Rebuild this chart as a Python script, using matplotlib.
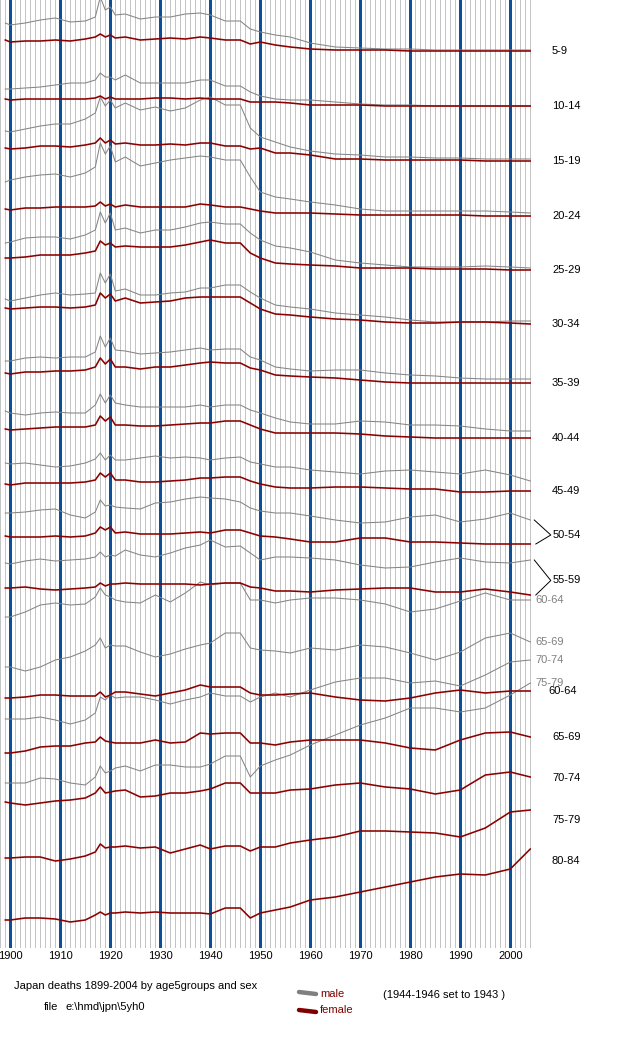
import matplotlib
matplotlib.use("Agg")
import matplotlib.pyplot as plt
from matplotlib.lines import Line2D

plt.rcParams['font.family'] = ['Liberation Sans', 'DejaVu Sans']

YEARS = [1899, 1900, 1903, 1906, 1909, 1912, 1915, 1917, 1918, 1919,
         1920, 1921, 1923, 1926, 1929, 1932, 1935, 1938, 1940, 1943,
         1946, 1948, 1950, 1953, 1956, 1960, 1965, 1970, 1975, 1980,
         1985, 1990, 1995, 2000, 2004]

# curve levels (stacked, arbitrary units measured downward from the top)
M_05_09 = [23, 25, 23, 20, 18, 22, 21, 17, -3, 10, 7, 15, 14, 19, 17, 17, 14, 13, 15, 21,
           21, 29, 32, 35, 37, 43, 47, 48, 49, 49, 50, 50, 50, 50, 50]
F_05_09 = [40, 42, 41, 41, 40, 41, 39, 37, 34, 37, 35, 38, 37, 40, 39, 38, 39, 37, 38, 40,
           40, 44, 42, 45, 47, 49, 50, 50, 50, 51, 51, 51, 51, 51, 51]
M_10_14 = [89, 89, 88, 87, 85, 83, 83, 80, 73, 77, 77, 80, 75, 83, 83, 83, 83, 80, 80, 86,
           86, 92, 96, 99, 100, 100, 102, 104, 105, 105, 106, 106, 106, 106, 106]
F_10_14 = [99, 100, 99, 99, 99, 99, 99, 98, 96, 99, 97, 99, 99, 99, 98, 98, 99, 98, 99, 99,
           99, 102, 102, 102, 103, 105, 105, 105, 106, 106, 106, 106, 106, 106, 106]
M_15_19 = [131, 132, 129, 126, 124, 124, 119, 113, 97, 106, 100, 108, 103, 110, 107, 111, 108, 100, 97, 105,
           105, 128, 137, 142, 147, 151, 154, 155, 157, 157, 158, 158, 159, 159, 159]
F_15_19 = [148, 149, 148, 146, 146, 147, 145, 143, 138, 143, 140, 144, 143, 145, 145, 144, 145, 143, 143, 146,
           146, 149, 148, 153, 153, 155, 159, 159, 160, 160, 160, 160, 161, 161, 161]
M_20_24 = [182, 180, 177, 175, 174, 177, 173, 167, 143, 154, 146, 162, 157, 166, 163, 160, 158, 156, 157, 160,
           160, 177, 192, 197, 199, 202, 205, 209, 211, 211, 211, 211, 211, 212, 213]
F_20_24 = [209, 210, 208, 208, 207, 207, 207, 206, 202, 206, 204, 207, 205, 207, 207, 207, 207, 204, 205, 207,
           207, 209, 211, 213, 213, 213, 214, 215, 215, 215, 215, 215, 216, 216, 216]
M_25_29 = [243, 242, 238, 237, 237, 239, 235, 230, 212, 223, 213, 230, 228, 233, 230, 230, 227, 223, 222, 224,
           224, 233, 240, 246, 248, 252, 260, 263, 265, 267, 267, 267, 266, 267, 268]
F_25_29 = [258, 258, 257, 255, 255, 255, 253, 251, 241, 245, 243, 247, 246, 247, 247, 247, 245, 242, 240, 243,
           243, 253, 258, 263, 264, 265, 266, 268, 268, 268, 269, 269, 269, 270, 270]
M_30_34 = [299, 301, 298, 295, 293, 295, 294, 293, 273, 283, 274, 291, 289, 295, 295, 293, 292, 288, 288, 285,
           285, 292, 298, 305, 307, 309, 313, 315, 317, 320, 322, 322, 322, 321, 321]
F_30_34 = [308, 309, 308, 307, 307, 308, 307, 305, 293, 298, 294, 301, 298, 303, 302, 301, 298, 297, 297, 297,
           297, 303, 309, 314, 315, 317, 319, 320, 322, 323, 323, 322, 322, 323, 324]
M_35_39 = [361, 361, 358, 357, 358, 357, 357, 352, 336, 347, 338, 350, 351, 354, 353, 352, 350, 348, 350, 349,
           349, 357, 360, 367, 369, 371, 370, 370, 373, 375, 376, 378, 379, 379, 379]
F_35_39 = [373, 374, 372, 372, 371, 371, 370, 367, 358, 364, 359, 367, 367, 369, 367, 367, 365, 363, 362, 363,
           363, 368, 370, 375, 376, 377, 378, 380, 382, 383, 383, 383, 383, 383, 383]
M_40_44 = [411, 413, 415, 413, 412, 413, 413, 405, 394, 403, 395, 403, 405, 407, 407, 407, 407, 405, 407, 405,
           405, 410, 413, 418, 422, 424, 424, 421, 422, 425, 425, 426, 429, 431, 431]
F_40_44 = [429, 430, 429, 428, 427, 427, 427, 425, 416, 421, 417, 425, 425, 426, 426, 425, 424, 423, 423, 421,
           421, 425, 429, 433, 433, 433, 433, 434, 436, 437, 438, 438, 438, 438, 438]
M_45_49 = [463, 464, 463, 465, 467, 466, 463, 459, 453, 460, 455, 460, 460, 458, 456, 458, 457, 458, 460, 458,
           457, 462, 464, 467, 467, 470, 472, 474, 471, 470, 472, 474, 470, 475, 481]
F_45_49 = [484, 485, 483, 483, 483, 483, 482, 480, 473, 477, 473, 480, 480, 482, 482, 481, 480, 478, 478, 477,
           477, 481, 484, 487, 488, 488, 487, 487, 488, 489, 489, 492, 492, 491, 491]
M_50_54 = [513, 513, 512, 510, 509, 515, 518, 512, 500, 506, 505, 507, 508, 509, 503, 502, 499, 497, 498, 499,
           502, 508, 511, 513, 513, 516, 520, 523, 522, 517, 515, 522, 519, 513, 520]
F_50_54 = [536, 537, 537, 537, 536, 537, 536, 533, 527, 530, 527, 533, 532, 534, 534, 534, 533, 532, 533, 530,
           530, 533, 536, 537, 539, 542, 542, 538, 538, 542, 542, 543, 544, 544, 544]
M_55_59 = [563, 564, 561, 559, 561, 560, 559, 557, 552, 557, 555, 556, 550, 555, 557, 553, 548, 545, 540, 547,
           546, 553, 560, 557, 557, 558, 560, 565, 568, 567, 562, 558, 562, 563, 560]
F_55_59 = [588, 588, 587, 589, 590, 589, 588, 587, 583, 586, 584, 584, 583, 584, 584, 584, 584, 585, 584, 583,
           583, 587, 588, 591, 591, 592, 590, 589, 588, 588, 592, 592, 589, 592, 595]
M_60_64 = [617, 617, 612, 605, 603, 605, 604, 597, 588, 595, 597, 600, 602, 603, 595, 602, 593, 582, 585, 583,
           583, 600, 600, 603, 600, 598, 598, 600, 604, 612, 609, 601, 593, 600, 600]
M_65_69 = [667, 667, 671, 667, 660, 657, 651, 645, 638, 648, 645, 646, 646, 652, 657, 654, 649, 645, 643, 633,
           633, 648, 650, 651, 653, 648, 650, 645, 647, 653, 660, 652, 638, 633, 642]
M_70_74 = [719, 719, 719, 717, 720, 724, 720, 713, 697, 700, 695, 698, 697, 697, 700, 704, 700, 697, 693, 696,
           696, 702, 697, 693, 697, 690, 682, 678, 678, 683, 681, 686, 675, 662, 660]
M_75_79 = [783, 783, 783, 778, 779, 783, 785, 777, 766, 773, 771, 768, 766, 771, 765, 765, 767, 767, 764, 756,
           756, 777, 766, 760, 755, 745, 735, 725, 718, 708, 708, 712, 708, 695, 683]
F_60_64 = [698, 698, 697, 695, 695, 696, 696, 696, 692, 697, 695, 692, 692, 694, 696, 693, 690, 685, 687, 687,
           687, 693, 695, 695, 694, 693, 697, 700, 701, 698, 693, 690, 693, 691, 691]
F_65_69 = [753, 753, 751, 747, 746, 746, 743, 742, 737, 741, 742, 743, 743, 743, 740, 743, 742, 733, 734, 733,
           733, 743, 743, 745, 742, 740, 740, 740, 743, 748, 750, 740, 733, 732, 737]
F_70_74 = [802, 803, 805, 803, 801, 800, 798, 793, 787, 793, 792, 791, 790, 797, 796, 793, 793, 791, 789, 783,
           783, 793, 793, 793, 790, 789, 785, 783, 787, 789, 794, 790, 775, 772, 777]
F_75_79 = [858, 858, 857, 857, 861, 859, 856, 852, 844, 848, 847, 847, 846, 848, 847, 853, 849, 845, 849, 846,
           846, 851, 847, 847, 843, 840, 837, 831, 831, 832, 833, 837, 828, 812, 810]
F_80_84 = [920, 920, 918, 918, 919, 922, 920, 915, 912, 915, 913, 913, 912, 913, 912, 913, 913, 913, 914, 908,
           908, 918, 913, 910, 907, 900, 897, 892, 887, 882, 877, 874, 875, 869, 849]

PAIRED_AGES = ['5-9', '10-14', '15-19', '20-24', '25-29', '30-34',
               '35-39', '40-44', '45-49', '50-54', '55-59']
PAIRED_MALE = [M_05_09, M_10_14, M_15_19, M_20_24, M_25_29, M_30_34,
               M_35_39, M_40_44, M_45_49, M_50_54, M_55_59]
PAIRED_FEMALE = [F_05_09, F_10_14, F_15_19, F_20_24, F_25_29, F_30_34,
                 F_35_39, F_40_44, F_45_49, F_50_54, F_55_59]
BRACKETED = ['50-54', '55-59']

OLD_MALE_AGES = ['60-64', '65-69', '70-74', '75-79']
OLD_MALE = [M_60_64, M_65_69, M_70_74, M_75_79]
OLD_FEMALE_AGES = ['60-64', '65-69', '70-74', '75-79', '80-84']
OLD_FEMALE = [F_60_64, F_65_69, F_70_74, F_75_79, F_80_84]

DECADES = list(range(1900, 2001, 10))

MALE_COLOR = '#858585'
FEMALE_COLOR = '#8b0000'
GRID_GRAY = '#c4c4c4'
GRID_BLUE = '#0a4f9a'

W, H = 640, 1050
fig = plt.figure(figsize=(W / 100, H / 100), dpi=100)
fig.patch.set_facecolor('white')
ax = fig.add_axes([0, 1 - 948 / H, 531 / W, 948 / H])
x0 = 1900 - 10.3 / 5
ax.set_xlim(x0, x0 + 531 / 5)
ax.set_ylim(948, 0)
for s in ax.spines.values():
    s.set_visible(False)

# yearly grid, decades in blue
for yr in range(1898, 2005):
    if yr % 10:
        ax.axvline(yr, color=GRID_GRAY, lw=0.65, antialiased=False, zorder=0)
for yr in DECADES:
    ax.axvline(yr, color=GRID_BLUE, lw=0.85, antialiased=False, zorder=1)

ax.set_xticks(DECADES)
ax.set_xticklabels([str(d) for d in DECADES])
ax.tick_params(axis='x', length=0, pad=2, labelsize=8)
ax.set_yticks([])

lab_x = 1900 + (552 - 10.3) / 5
gray_lab_x = 1900 + (535 - 10.3) / 5

for age, m, f in zip(PAIRED_AGES, PAIRED_MALE, PAIRED_FEMALE):
    ax.plot(YEARS, m, color=MALE_COLOR, lw=0.75, zorder=3)
    ax.plot(YEARS, f, color=FEMALE_COLOR, lw=1.15, zorder=4)
    if age in BRACKETED:
        mid = (m[-1] + f[-1]) / 2 + 3
        ax.plot([YEARS[-1] + 0.8, YEARS[-1] + 4.1, YEARS[-1] + 1.1],
                [m[-1], mid, f[-1]], color='black', lw=0.7, clip_on=False)
        ax.text(YEARS[-1] + 4.4, mid, age, fontsize=8, va='center', ha='left', clip_on=False)
    else:
        ax.text(lab_x, f[-1], age, fontsize=8, va='center', ha='left', clip_on=False)

for age, m in zip(OLD_MALE_AGES, OLD_MALE):
    ax.plot(YEARS, m, color=MALE_COLOR, lw=0.75, zorder=3)
    ax.text(gray_lab_x, m[-1], age, fontsize=8, color='#808080', va='center',
            ha='left', clip_on=False)

prev = None
for age, f in zip(OLD_FEMALE_AGES, OLD_FEMALE):
    ax.plot(YEARS, f, color=FEMALE_COLOR, lw=1.15, zorder=4)
    ly = f[-1] if prev is None else max(f[-1], prev + 41.5)
    prev = ly
    ax.text(lab_x - (0.8 if age == '60-64' else 0), ly, age, fontsize=8,
            va='center', ha='left', clip_on=False)


def fx(px):
    return px / W


def fy(py):
    return 1 - py / H


fig.text(fx(14), fy(986), 'Japan deaths 1899-2004 by age5groups and sex', fontsize=8, va='center')
fig.text(fx(44), fy(1007), 'file', fontsize=8, va='center')
fig.text(fx(66), fy(1007), r'e:\hmd\jpn\5yh0', fontsize=8, va='center')
fig.text(fx(383), fy(995), '(1944-1946 set to 1943 )', fontsize=8, va='center')

fig.add_artist(Line2D([fx(299), fx(316)], [fy(992), fy(994)], color='#808080',
                      lw=3.2, solid_capstyle='round', transform=fig.transFigure))
fig.add_artist(Line2D([fx(299), fx(316)], [fy(1010), fy(1012)], color='#800000',
                      lw=3.2, solid_capstyle='round', transform=fig.transFigure))
fig.text(fx(320), fy(994), 'male', fontsize=8, color='#800000', va='center')
fig.text(fx(320), fy(1010), 'female', fontsize=8, color='#800000', va='center')

fig.savefig('out.png', dpi=100)
